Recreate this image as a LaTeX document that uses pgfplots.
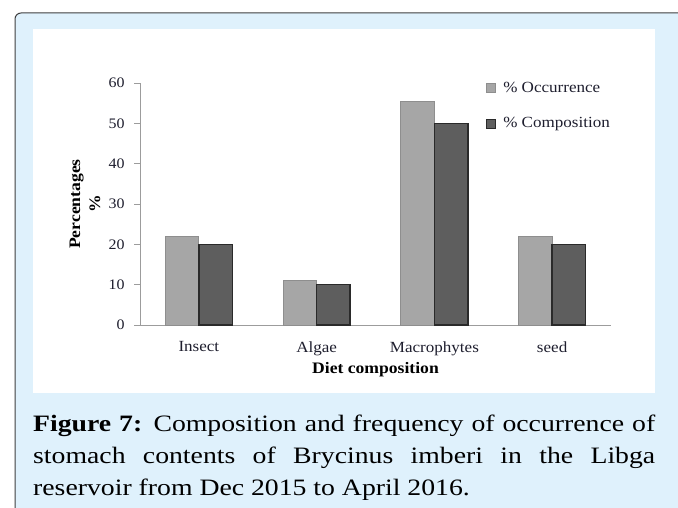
\documentclass[border=0pt]{standalone}
\usepackage{pgfplots}
\pgfplotsset{compat=1.18}
\usepackage{fontspec}
\setmainfont[FakeStretch=1.1]{Liberation Serif}
\newfontfamily\capfont[FakeStretch=1.18]{Liberation Serif}
\definecolor{bgblue}{HTML}{DFF1FC}
\definecolor{occ}{HTML}{A6A6A6}
\definecolor{occd}{HTML}{8E8E8E}
\definecolor{comp}{HTML}{5E5E5E}
\definecolor{compd}{HTML}{2A2A2A}
\definecolor{axgray}{HTML}{9C9C9C}
\definecolor{txt}{HTML}{1E1E2E}
\begin{document}
\begin{tikzpicture}
\useasboundingbox (0bp,0bp) rectangle (678bp,508bp);
\clip (0bp,0bp) rectangle (678bp,508bp);
\fill[white] (0bp,0bp) rectangle (678bp,508bp);
\draw[rounded corners=6bp, fill=bgblue, draw=black!75, line width=1bp] (15bp,-20bp) rectangle (700bp,495bp);
\fill[white] (33bp,115bp) rectangle (655bp,479bp);
\begin{axis}[
  at={(140bp,183bp)}, anchor=origin,
  scale only axis, width=471bp, height=242bp,
  xmin=0, xmax=4, ymin=0, ymax=60,
  axis x line=bottom, axis y line=left,
  axis line style={draw=axgray, line width=0.9bp, -},
  xtick={0.5,1.5,2.5,3.5},
  xticklabels={Insect,Algae,Macrophytes,seed},
  xtick style={draw=none},
  ytick={0,10,...,60},
  ytick style={draw=axgray, line width=0.9bp},
  tick align=outside, major tick length=6bp,
  /pgf/number format/assume math mode=true,
  yticklabel style={font=\fontsize{14.5bp}{16bp}\selectfont, text=txt, xshift=-6bp},
  xticklabel style={font=\fontsize{15.5bp}{17bp}\selectfont, text=txt, yshift=-7bp},
  every axis x label/.style={at={(axis description cs:0.5,0)}, anchor=center, yshift=-45bp, font=\bfseries\fontsize{16bp}{18bp}\selectfont, text=black},
  every axis y label/.style={at={(axis description cs:-0.117,0.5)}, anchor=center, rotate=90, align=center, font=\bfseries\fontsize{16bp}{20bp}\selectfont, text=black},
  xlabel={Diet composition},
  ylabel={Percentages\\\%},
  ybar=0pt, bar width=33.5bp,
  legend style={draw=none, fill=none, at={(rel axis cs:0.7346,1.014)}, anchor=north west, inner sep=0pt, row sep=20bp, font=\fontsize{15.5bp}{17bp}\selectfont, text=txt, cells={anchor=west}},
  legend image code/.code={\draw[#1, line width=0.8bp] (0bp,-4.5bp) rectangle (9bp,4.5bp); \path (14bp,0bp);},
  clip=false,
]
\addplot[fill=occ, draw=occd, line width=0.9bp] coordinates {(0.5,22) (1.5,11) (2.5,55.5) (3.5,22)};
\addplot[fill=comp, draw=compd, line width=1.4bp] coordinates {(0.5,20) (1.5,10) (2.5,50) (3.5,20)};
\legend{\% Occurrence, \% Composition}
\end{axis}
\begin{scope}[font=\capfont\fontsize{23.5bp}{28bp}\selectfont, text=black]
\node[anchor=base west, inner sep=0pt] at (33bp,76bp) {\makebox[622bp][s]{\textbf{Figure 7:} Composition and frequency of occurrence of}};
\node[anchor=base west, inner sep=0pt] at (33bp,44.5bp) {\makebox[622bp][s]{stomach contents of Brycinus imberi in the Libga}};
\node[anchor=base west, inner sep=0pt] at (33bp,13bp) {reservoir from Dec 2015 to April 2016.};
\end{scope}
\end{tikzpicture}
\end{document}
